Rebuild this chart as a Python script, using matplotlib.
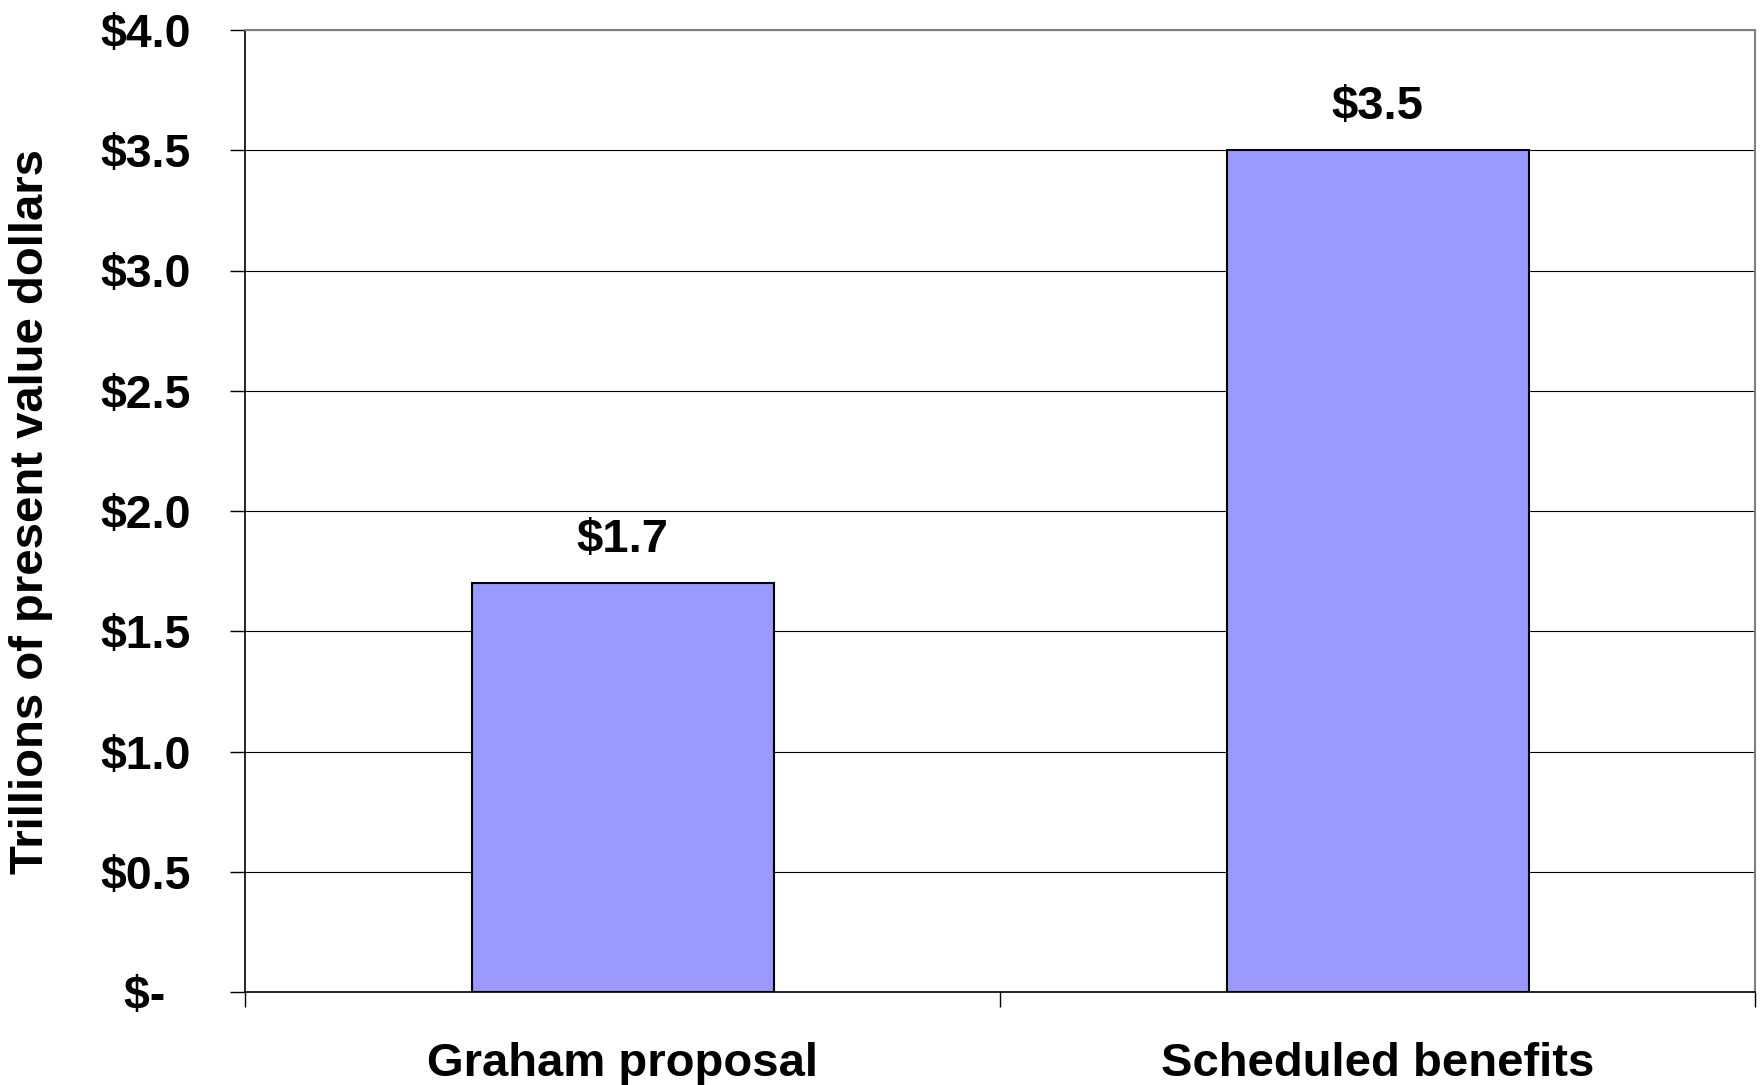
import matplotlib
matplotlib.use("Agg")
import matplotlib.pyplot as plt

categories = ["Graham proposal", "Scheduled benefits"]
values = [1.7, 3.5]
yticks = [0.0, 0.5, 1.0, 1.5, 2.0, 2.5, 3.0, 3.5, 4.0]

plt.rcParams['font.family'] = ['Liberation Sans', 'DejaVu Sans']
plt.rcParams['font.weight'] = 'bold'

fig = plt.figure(figsize=(17.61, 10.85), dpi=100)
ax = fig.add_axes([245/1761, 1-992/1085, 1510/1761, 962/1085])

x = range(len(categories))
ax.bar(x, values, width=0.4, color="#9999FF", edgecolor="black", linewidth=1.5, zorder=3)

for i, v in enumerate(values):
    ax.annotate(f"${v:.1f}", (i, v), xytext=(0, 15), textcoords="offset points",
                ha="center", va="bottom", fontsize=34, fontweight="bold")

ax.set_xlim(-0.5, 1.5)
ax.set_ylim(0, 4.0)
ax.set_yticks(yticks)
# accounting style: zero shown as "$-" with trailing padding
ax.set_yticklabels(["$-  " if t == 0 else f"${t:.1f}" for t in yticks], fontsize=33.5, fontweight="bold")
ax.set_xticks(list(x))
ax.set_xticklabels(categories, fontsize=34, fontweight="bold")
ax.set_xticks([-0.5, 0.5, 1.5], minor=True)
ax.tick_params(axis="x", which="major", length=0, pad=36)
ax.tick_params(axis="x", which="minor", length=11, width=1, direction="out")
ax.tick_params(axis="y", length=11, width=1, pad=28, direction="out")

ax.grid(axis="y", color="black", linewidth=0.8, zorder=0)
ax.set_axisbelow(True)

ax.set_ylabel("Trillions of present value dollars", fontsize=34, fontweight="bold")
ax.yaxis.set_label_coords(-0.127, 0.5)

for side in ["left", "bottom"]:
    ax.spines[side].set_color("black")
    ax.spines[side].set_linewidth(1.2)
for side in ["top", "right"]:
    ax.spines[side].set_color("#808080")
    ax.spines[side].set_linewidth(1.5)

fig.savefig("out.png", dpi=100)
